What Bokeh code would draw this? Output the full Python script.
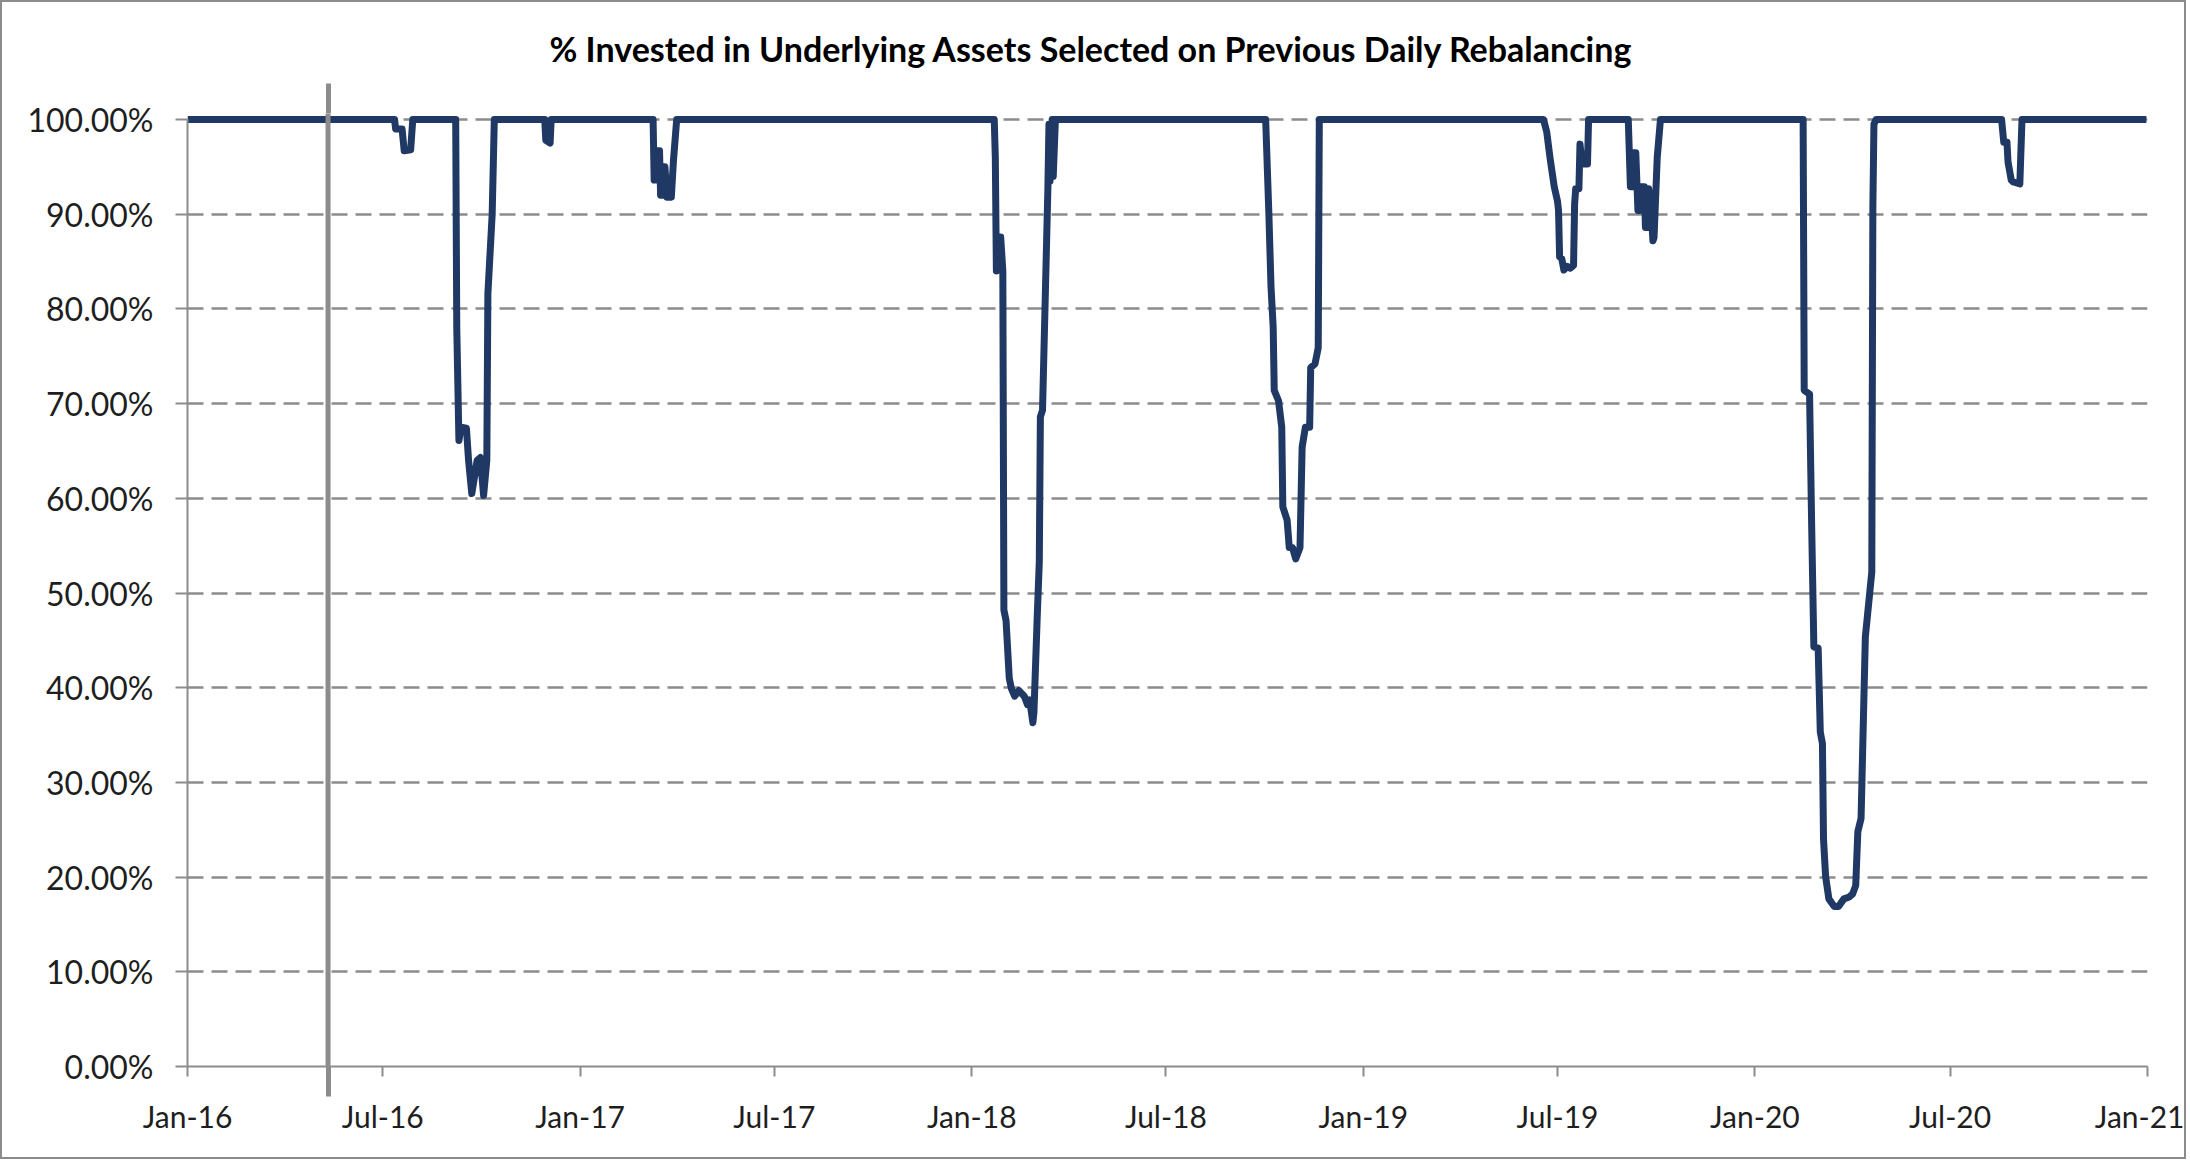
import pandas as pd
from bokeh.plotting import figure
from bokeh.models import (Range1d, FixedTicker, NumeralTickFormatter, DatetimeTickFormatter,
                          DatetimeAxis, Span)
from bokeh.embed import file_html
from bokeh.resources import INLINE

TITLE = "% Invested in Underlying Assets Selected on Previous Daily Rebalancing"

# ---- data ----------------------------------------------------------------
dates = [
    "2016-01-01",
    "2016-07-12", "2016-07-13", "2016-07-19", "2016-07-21", "2016-07-27", "2016-07-29",
    "2016-09-07", "2016-09-08", "2016-09-10", "2016-09-12", "2016-09-17", "2016-09-19",
    "2016-09-22", "2016-09-27", "2016-09-30", "2016-10-03", "2016-10-06", "2016-10-07",
    "2016-10-11", "2016-10-13",
    "2016-11-29", "2016-11-30", "2016-12-04", "2016-12-05",
    "2017-03-10", "2017-03-11", "2017-03-13", "2017-03-14", "2017-03-16", "2017-03-17",
    "2017-03-19", "2017-03-21", "2017-03-23", "2017-03-27", "2017-03-29", "2017-04-01",
    "2018-01-22", "2018-01-23", "2018-01-24", "2018-01-26", "2018-01-28", "2018-01-30",
    "2018-01-31", "2018-02-02", "2018-02-05", "2018-02-07", "2018-02-10", "2018-02-14",
    "2018-02-19", "2018-02-22", "2018-02-24", "2018-02-27", "2018-02-28", "2018-03-03",
    "2018-03-05", "2018-03-06", "2018-03-08", "2018-03-13", "2018-03-14", "2018-03-15",
    "2018-03-17", "2018-03-18", "2018-03-20",
    "2018-10-02", "2018-10-05", "2018-10-07", "2018-10-09", "2018-10-10", "2018-10-14",
    "2018-10-17", "2018-10-18", "2018-10-22", "2018-10-24", "2018-10-27", "2018-10-30",
    "2018-11-03", "2018-11-05", "2018-11-08", "2018-11-12", "2018-11-13", "2018-11-17",
    "2018-11-20", "2018-11-21",
    "2019-06-18", "2019-06-21", "2019-06-24", "2019-06-28", "2019-07-01", "2019-07-02",
    "2019-07-03", "2019-07-05", "2019-07-07", "2019-07-10", "2019-07-13", "2019-07-16",
    "2019-07-17", "2019-07-18", "2019-07-21", "2019-07-22", "2019-07-24", "2019-07-29",
    "2019-07-30",
    "2019-09-05", "2019-09-07", "2019-09-09", "2019-09-10", "2019-09-12", "2019-09-14",
    "2019-09-16", "2019-09-17", "2019-09-20", "2019-09-21", "2019-09-23", "2019-09-24",
    "2019-09-26", "2019-09-28", "2019-09-29", "2019-10-02", "2019-10-05",
    "2020-02-15", "2020-02-16", "2020-02-21", "2020-02-23", "2020-02-25", "2020-02-29",
    "2020-03-02", "2020-03-04", "2020-03-05", "2020-03-07", "2020-03-10", "2020-03-15",
    "2020-03-19", "2020-03-24", "2020-03-29", "2020-04-01", "2020-04-04", "2020-04-06",
    "2020-04-09", "2020-04-10", "2020-04-13", "2020-04-16", "2020-04-19", "2020-04-20",
    "2020-04-21", "2020-04-23",
    "2020-08-18", "2020-08-20", "2020-08-23", "2020-08-24", "2020-08-27", "2020-08-29",
    "2020-09-04", "2020-09-06",
    "2020-12-31",
]

invested = [
    1.000,
    1.000, 0.990, 0.990, 0.967, 0.968, 1.000,
    1.000, 0.780, 0.661, 0.675, 0.674, 0.640,
    0.605, 0.640, 0.643, 0.603, 0.640, 0.816,
    0.900, 1.000,
    1.000, 0.978, 0.975, 1.000,
    1.000, 0.936, 0.936, 0.967, 0.967, 0.920,
    0.920, 0.950, 0.918, 0.918, 0.957, 1.000,
    1.000, 0.960, 0.840, 0.876, 0.876, 0.840,
    0.482, 0.471, 0.410, 0.399, 0.391, 0.397,
    0.391, 0.382, 0.387, 0.363, 0.374, 0.473,
    0.533, 0.686, 0.693, 0.927, 0.995, 0.935,
    1.000, 0.940, 1.000,
    1.000, 0.900, 0.823, 0.781, 0.714, 0.703,
    0.675, 0.591, 0.577, 0.548, 0.548, 0.536,
    0.548, 0.654, 0.675, 0.675, 0.738, 0.742,
    0.759, 1.000,
    1.000, 0.987, 0.960, 0.929, 0.914, 0.904,
    0.855, 0.853, 0.841, 0.845, 0.843, 0.846,
    0.911, 0.927, 0.927, 0.974, 0.953, 0.953,
    1.000,
    1.000, 0.929, 0.929, 0.965, 0.965, 0.904,
    0.904, 0.929, 0.929, 0.886, 0.886, 0.927,
    0.910, 0.872, 0.875, 0.960, 1.000,
    1.000, 0.714, 0.710, 0.568, 0.443, 0.442,
    0.353, 0.341, 0.240, 0.200, 0.177, 0.169,
    0.169, 0.177, 0.179, 0.182, 0.191, 0.248,
    0.262, 0.310, 0.454, 0.488, 0.522, 0.907,
    0.995, 1.000,
    1.000, 0.976, 0.976, 0.955, 0.936, 0.934,
    0.932, 1.000,
    1.000,
]

x_tick_dates = ["2016-01-01", "2016-07-01", "2017-01-01", "2017-07-01", "2018-01-01",
                "2018-07-01", "2019-01-01", "2019-07-01", "2020-01-01", "2020-07-01",
                "2021-01-01"]
x_tick_labels = ["Jan-16", "Jul-16", "Jan-17", "Jul-17", "Jan-18", "Jul-18",
                 "Jan-19", "Jul-19", "Jan-20", "Jul-20", "Jan-21"]
y_ticks = [0.0, 0.1, 0.2, 0.3, 0.4, 0.5, 0.6, 0.7, 0.8, 0.9, 1.0]
marker_date = "2016-05-11"

# ---- styling -------------------------------------------------------------
FONT = "Lato"
LINE_COLOR = "#203864"
GRAY = "#8c8c8c"
TEXT = "#1e1e1e"
MARKER_W = 5
MARKER_EXT = 30


def ms(d):
    return pd.Timestamp(d).value // 10**6


x = pd.to_datetime(dates)
tick_ms = [ms(d) for d in x_tick_dates]
mx = ms(marker_date)

p = figure(width=2186, height=1159, x_axis_type="datetime",
           x_range=Range1d(pd.Timestamp(x_tick_dates[0]), pd.Timestamp(x_tick_dates[-1])),
           y_range=Range1d(0, 1.00634),
           output_backend="svg", toolbar_location=None,
           min_border_left=185, min_border_right=41, min_border_top=111, min_border_bottom=95)
p.outline_line_color = None
p.background_fill_color = "white"
p.border_fill_color = "white"
p.styles = {"border": "2px solid #8c8c8c"}

# title, centred over the whole chart area
p.title.text = TITLE
p.title.align = "left"
p.title.offset = 362
p.title.standoff = 29
p.title.text_font = FONT
p.title.text_font_size = "34px"
p.title.text_font_style = "bold"
p.title.text_color = "#000000"

# grid
p.xgrid.grid_line_color = None
p.ygrid.ticker = FixedTicker(ticks=y_ticks)
p.ygrid.grid_line_color = GRAY
p.ygrid.grid_line_width = 2.5
p.ygrid.grid_line_dash = "16 8"

# y axis
ya = p.yaxis[0]
ya.ticker = FixedTicker(ticks=y_ticks)
ya.formatter = NumeralTickFormatter(format="0.00%")
ya.bounds = (0, 1)
ya.axis_line_color = GRAY
ya.axis_line_width = 2
ya.major_tick_line_color = GRAY
ya.major_tick_line_width = 2
ya.major_tick_out = 12
ya.major_tick_in = 0
ya.minor_tick_line_color = None
ya.major_label_standoff = 22
ya.major_label_text_font = FONT
ya.major_label_text_font_size = "32px"
ya.major_label_text_color = TEXT

# x axis (its minor tick is the lower end of the vertical marker line)
xa = p.xaxis[0]
xa.ticker = FixedTicker(ticks=tick_ms, minor_ticks=[mx])
xa.formatter = DatetimeTickFormatter(days="%b-%y", months="%b-%y", years="%b-%y")
xa.major_label_overrides = dict(zip(tick_ms, x_tick_labels))
xa.axis_line_color = GRAY
xa.axis_line_width = 2
xa.major_tick_line_color = GRAY
xa.major_tick_line_width = 2
xa.major_tick_out = 10
xa.major_tick_in = 0
xa.minor_tick_line_color = GRAY
xa.minor_tick_line_width = MARKER_W
xa.minor_tick_out = MARKER_EXT
xa.minor_tick_in = 0
xa.major_label_standoff = 1
xa.major_label_text_font = FONT
xa.major_label_text_font_size = "30px"
xa.major_label_text_color = TEXT

# upper end of the vertical marker line: a bare axis above the plot area
top = DatetimeAxis(ticker=FixedTicker(ticks=[], minor_ticks=[mx]))
top.axis_line_color = None
top.major_tick_out = 0
top.major_tick_in = 0
top.major_label_text_font_size = "0px"
top.major_label_standoff = 0
top.minor_tick_line_color = GRAY
top.minor_tick_line_width = MARKER_W
top.minor_tick_out = MARKER_EXT
top.minor_tick_in = 0
p.add_layout(top, "above")

# data line
p.line(x, invested, line_color=LINE_COLOR, line_width=7, line_join="round")

# vertical marker line inside the plot area
p.add_layout(Span(location=mx, dimension="height", line_color=GRAY, line_width=MARKER_W))

open("out.html", "w").write(file_html(p, INLINE))
